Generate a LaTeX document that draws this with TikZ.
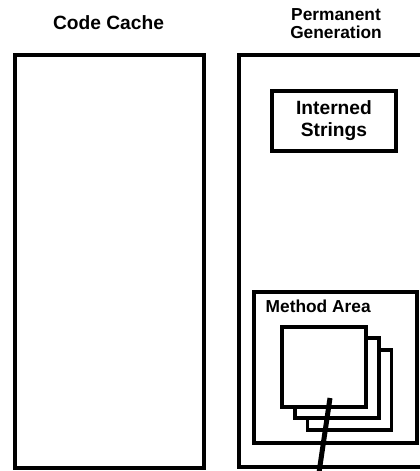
\documentclass[tikz,border=0pt]{standalone}
\usepackage{fontspec}
\setmainfont{Liberation Sans}
\usetikzlibrary{positioning}
\newcommand{\px}{0.75pt}

\begin{document}
\begin{tikzpicture}[x=\px, y=-\px,
    region/.style 2 args={draw, line width=3.5*\px, fill=white,
                          minimum width=#1*\px, minimum height=#2*\px, inner sep=0pt},
    page/.style={draw, line width=3.2*\px, fill=white,
                 minimum width=84*\px, minimum height=80*\px, inner sep=0pt},
    title/.style={font=\bfseries\fontsize{14.4}{16.5}\selectfont, align=center},
    subtitle/.style={font=\bfseries\fontsize{13}{14}\selectfont, align=center}
  ]
    \clip (0,0) rectangle (420,471);

    \node[title] (cctitle) at (108.5,22.5) {Code Cache};
    \node[subtitle] (pgtitle) at (336,23.5) {Permanent\\Generation};

    \node[region={189}{413}] (cc) at (109.5,261.5) {};
    \node[region={201}{412}] (pg) at (339.5,261) {};
    \node[region={124}{60}, title] (is) at (334,121) {Interned\\Strings};
    \node[region={163}{151}] (ma) at (335.5,367.5) {};
    \node[subtitle, anchor=west] (malabel) at (261,306) {Method Area};

    \node[page] (p3) at (349.5,390) {};
    \node[page] (p2) at (337,378) {};
    \node[page] (p1) at (324,367) {};

    \coordinate (hook) at (330,398);
    \coordinate (tail) at (318.5,476);
    \draw[line width=5*\px] (hook) -- (tail);
  \end{tikzpicture}
\end{document}
